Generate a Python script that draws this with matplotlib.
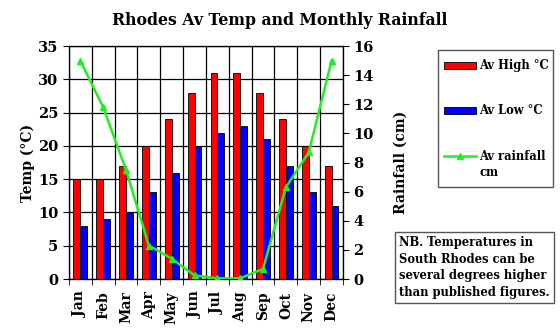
import matplotlib
matplotlib.use("Agg")
import matplotlib.pyplot as plt
import numpy as np
from matplotlib.patches import Rectangle
from matplotlib.lines import Line2D

months = ["Jan", "Feb", "Mar", "Apr", "May", "Jun", "Jul", "Aug", "Sep", "Oct", "Nov", "Dec"]
av_high = [15, 15, 17, 20, 24, 28, 31, 31, 28, 24, 20, 17]
av_low = [8, 9, 10, 13, 16, 20, 22, 23, 21, 17, 13, 11]
rainfall = [15.0, 11.8, 7.5, 2.3, 1.4, 0.25, 0.05, 0.05, 0.7, 6.3, 8.7, 15.0]

plt.rcParams['font.family'] = ['DejaVu Serif']
plt.rcParams['font.weight'] = 'bold'

W, H = 560, 330
fig = plt.figure(figsize=(5.6, 3.3), dpi=100)
ax = fig.add_axes([0.123, 0.1545, 0.4895, 0.706])
x = np.arange(len(months))
w = 0.3
ax.bar(x - w / 2, av_high, w, color='#FF0000', edgecolor='black', linewidth=0.6, zorder=3)
ax.bar(x + w / 2, av_low, w, color='#0000FF', edgecolor='black', linewidth=0.6, zorder=3)
ax.set_xlim(-0.5, 11.5)
ax.set_ylim(0, 35)
ax.set_yticks(range(0, 36, 5))
ax.set_xticks(x)
ax.set_xticklabels(months, rotation=90, fontsize=10, fontweight='bold')
ax.tick_params(axis='x', length=0, pad=9)
ax.set_xticks(np.arange(-0.5, 12, 1), minor=True)
ax.tick_params(axis='x', which='minor', length=4, direction='out')
ax.tick_params(axis='y', labelsize=10.5, length=4, direction='out')
for lbl in ax.get_yticklabels():
    lbl.set_fontweight('bold')
ax.grid(True, axis='y', color='black', linewidth=0.9, zorder=0)
ax.grid(True, axis='x', which='minor', color='black', linewidth=0.9, zorder=0)
ax.set_ylabel("Temp (°C)", fontsize=10, fontweight='bold', labelpad=2)
for s in ax.spines.values():
    s.set_linewidth(0.9)

green = '#22EE22'
ax2 = ax.twinx()
ax2.plot(x, rainfall, color=green, linewidth=1.8, marker='^', markersize=5, zorder=4)
ax2.set_ylim(0, 16)
ax2.set_yticks(range(0, 17, 2))
ax2.tick_params(axis='y', labelsize=10.5, length=4, direction='out')
for lbl in ax2.get_yticklabels():
    lbl.set_fontweight('bold')
ax2.set_ylabel("Rainfall (cm)", fontsize=10, fontweight='bold', labelpad=14)

fig.text(0.5, 0.938, "Rhodes Av Temp and Monthly Rainfall", ha='center', va='center',
         fontsize=11.3, fontweight='bold')

# Legend drawn in figure pixel coordinates (y measured from top)
def fx(px):
    return px / W

def fy(py):
    return (H - py) / H

fig.add_artist(Rectangle((fx(438), fy(187)), fx(553) - fx(438), fy(50) - fy(187),
                         transform=fig.transFigure, facecolor='white', edgecolor='#555555',
                         linewidth=1.0))
fig.add_artist(Rectangle((fx(444), fy(69)), fx(476) - fx(444), fy(61.5) - fy(69),
                         transform=fig.transFigure, facecolor='#FF0000', edgecolor='black',
                         linewidth=0.6))
fig.add_artist(Rectangle((fx(444), fy(114)), fx(476) - fx(444), fy(106.5) - fy(114),
                         transform=fig.transFigure, facecolor='#0000FF', edgecolor='black',
                         linewidth=0.6))
fig.add_artist(Line2D([fx(444), fx(476)], [fy(156), fy(156)], transform=fig.transFigure,
                      color=green, linewidth=1.8))
fig.add_artist(Line2D([fx(460)], [fy(156)], transform=fig.transFigure, color=green,
                      marker='^', markersize=5))
leg_labels = ["Av High °C", "Av Low °C", "Av rainfall", "cm"]
leg_y = [65.5, 110.5, 156, 172]
for t, yy in zip(leg_labels, leg_y):
    fig.text(fx(479), fy(yy), t, ha='left', va='center', fontsize=8.3, fontweight='bold')

fig.text(0.713, 0.095, "NB. Temperatures in\nSouth Rhodes can be\nseveral degrees higher\nthan published figures.",
         fontsize=8.3, fontweight='bold', va='bottom', ha='left', linespacing=1.35,
         bbox=dict(boxstyle='square,pad=0.35', facecolor='white', edgecolor='#555555', linewidth=1.0))

fig.savefig("out.png", dpi=100)
